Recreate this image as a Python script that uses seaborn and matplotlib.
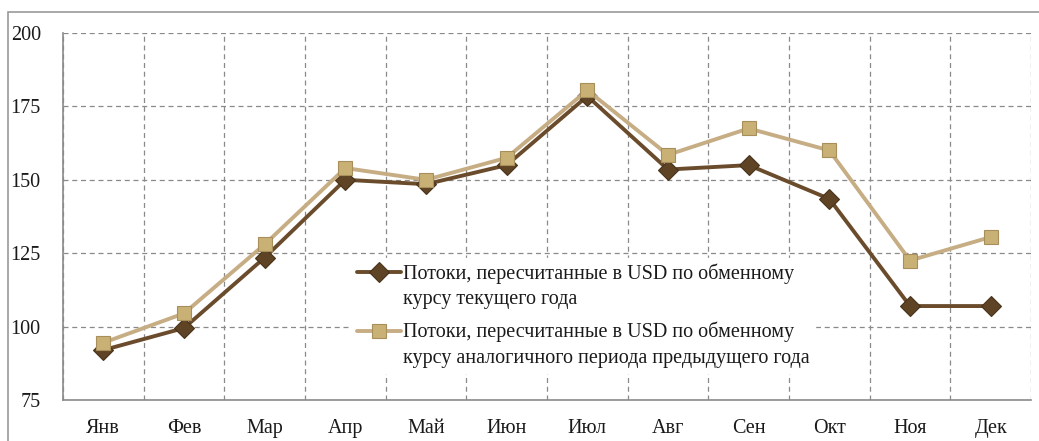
import matplotlib
matplotlib.use("Agg")
import matplotlib.pyplot as plt
import seaborn as sns
import pandas as pd
import numpy as np
from matplotlib.patches import Rectangle
from matplotlib.lines import Line2D
from matplotlib.legend_handler import HandlerLine2D

months = ["Янв", "Фев", "Мар", "Апр", "Май", "Июн", "Июл", "Авг", "Сен", "Окт", "Ноя", "Дек"]
current_rate = [92, 99.5, 123.5, 150, 148.5, 155, 178.5, 153.5, 155, 143.5, 107, 107]
prev_rate = [94.5, 104.5, 128, 154, 150, 157.5, 180.5, 158.5, 167.5, 160, 122.5, 130.5]
label_cur = "Потоки, пересчитанные в USD по обменному\nкурсу текущего года"
label_prev = "Потоки, пересчитанные в USD по обменному\nкурсу аналогичного периода предыдущего года"
yticks = [75, 100, 125, 150, 175, 200]

sns.set_theme(style="white")
plt.rcParams["font.family"] = ["Liberation Serif", "DejaVu Serif"]

df = pd.DataFrame({"pos": list(range(len(months))) * 2,
                   "value": current_rate + prev_rate,
                   "series": [label_cur] * len(months) + [label_prev] * len(months)})

fig = plt.figure(figsize=(10.39, 4.41), dpi=100)
ax = fig.add_axes([63 / 1039, 1 - 400 / 441, (1031 - 63) / 1039, (400 - 33) / 441])

fig.patches.append(Rectangle((8 / 1039, -0.1), 1.2, 1 - 12 / 441 + 0.1, transform=fig.transFigure,
                             fill=False, edgecolor="#9a9a9a", linewidth=1.2))

dark = "#6a4c2c"
light = "#c6ad84"
sns.lineplot(data=df[df.series == label_cur], x="pos", y="value", ax=ax, color=dark,
             linewidth=2.8, marker="D", markersize=10, markerfacecolor="#5e4324",
             markeredgecolor="#4a331b", markeredgewidth=0.8, label=label_cur, zorder=3)
sns.lineplot(data=df[df.series == label_prev], x="pos", y="value", ax=ax, color=light,
             linewidth=2.8, marker="s", markersize=10.5, markerfacecolor="#c9b074",
             markeredgecolor="#a88e5a", markeredgewidth=0.8, label=label_prev, zorder=4)

ax.set_xlim(-0.5, len(months) - 0.5)
ax.set_ylim(75, 200)
ax.set_yticks(yticks)
ax.set_xticks(range(len(months)))
ax.set_xticklabels(months)
ax.set_xticks(np.arange(-0.5, len(months), 1.0), minor=True)
ax.set_xlabel("")
ax.set_ylabel("")

ax.grid(False)
ax.yaxis.grid(True, linestyle=(0, (4, 3)), color="#8a8a8a", linewidth=0.9)
ax.xaxis.grid(True, which="minor", linestyle=(0, (4, 3)), color="#8a8a8a", linewidth=0.9)
ax.set_axisbelow(True)

ax.tick_params(axis="x", which="major", length=0, labelsize=14.5, pad=14, colors="#1a1a1a")
ax.tick_params(axis="x", which="minor", length=7, width=1, color="#8a8a8a", direction="out")
ax.tick_params(axis="y", length=7, width=1, color="#8a8a8a", direction="out", labelsize=14.5,
               pad=9, labelcolor="#1a1a1a")

for s in ["top", "right"]:
    ax.spines[s].set_visible(False)
for s in ["left", "bottom"]:
    ax.spines[s].set_color("#8a8a8a")
    ax.spines[s].set_linewidth(1.2)


class UpHandler(HandlerLine2D):
    def create_artists(self, legend, orig_handle, xdescent, ydescent, width, height,
                       fontsize, trans):
        arts = super().create_artists(legend, orig_handle, xdescent, ydescent, width,
                                      height, fontsize, trans)
        for a in arts:
            a.set_ydata(np.asarray(a.get_ydata(), dtype=float) + 0.68 * fontsize)
        return arts


handles, labels = ax.get_legend_handles_labels()
leg = ax.legend(handles, labels, loc="upper left", bbox_to_anchor=(352 / 1039, 1 - 258 / 441),
                bbox_transform=fig.transFigure, frameon=True, fontsize=14.5,
                handlelength=2.2, handletextpad=0.1, labelspacing=0.65,
                borderpad=0.25, borderaxespad=0, handler_map={Line2D: UpHandler()})
leg.get_frame().set_facecolor("white")
leg.get_frame().set_edgecolor("white")
leg.get_frame().set_alpha(1)
for t in leg.get_texts():
    t.set_color("#1a1a1a")
    t.set_linespacing(1.45)

fig.savefig("out.png", dpi=100)
